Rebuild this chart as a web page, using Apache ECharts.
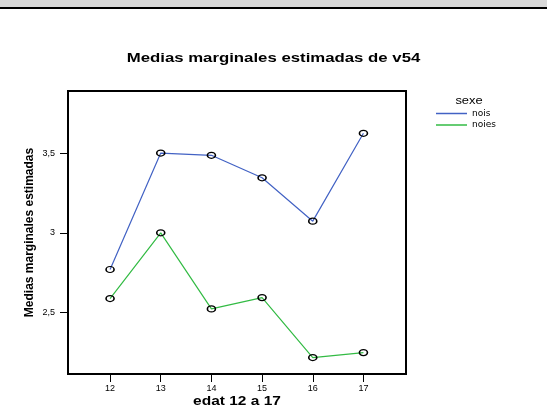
<!DOCTYPE html>
<html>
<head>
<meta charset="utf-8">
<script src="https://cdn.jsdelivr.net/npm/echarts@6/dist/echarts.min.js"></script>
<style>
  html, body { margin: 0; padding: 0; background: #fff; }
  #topband { position: absolute; left: 0; top: 0; width: 547px; height: 7px; background: #d9d9d9; border-bottom: 2px solid #000; }
  #chart { position: absolute; left: 0; top: 0; width: 547px; height: 405px; }
</style>
</head>
<body>
<div id="chart"></div>
<div id="topband"></div>
<script>
// Estimated marginal means of v54 by age and sex
const ages = [12, 13, 14, 15, 16, 17];
const nois = [2.77, 3.50, 3.486, 3.345, 3.073, 3.624];
const noies = [2.588, 3.00, 2.523, 2.594, 2.218, 2.249];
const yTicks = [2.5, 3, 3.5];

const FONT = 'Liberation Sans, Arial, sans-serif';
const WIDE = 1.29; // horizontal stretch of the wide headings

function pairs(xs, ys) { return xs.map((x, i) => [x, ys[i]]); }

const marker = {
  symbol: 'circle',
  symbolSize: [8, 6],
  itemStyle: { color: 'transparent', borderColor: '#000', borderWidth: 1.4 }
};

const chart = echarts.init(document.getElementById('chart'), null, { renderer: 'canvas' });
chart.setOption({
  animation: false,
  backgroundColor: '#fff',
  graphic: [
    {
      type: 'text', x: 273.5, y: 58, scaleX: WIDE,
      style: {
        text: 'Medias marginales estimadas de v54',
        font: 'bold 13px ' + FONT, fill: '#000',
        align: 'center', verticalAlign: 'middle'
      }
    },
    {
      type: 'text', x: 237, y: 396, scaleX: WIDE,
      style: {
        text: 'edat 12 a 17',
        font: 'bold 12px ' + FONT, fill: '#000',
        align: 'center', verticalAlign: 'top'
      }
    },
    {
      type: 'text', x: 469, y: 101, scaleX: WIDE,
      style: {
        text: 'sexe',
        font: '10px ' + FONT, fill: '#000',
        align: 'center', verticalAlign: 'middle'
      }
    }
  ],
  legend: {
    orient: 'vertical',
    left: 431, top: 103,
    itemWidth: 31, itemHeight: 1.5,
    itemGap: 0.5,
    icon: 'rect',
    textStyle: { fontFamily: 'DejaVu Sans, sans-serif', fontSize: 9, color: '#000', lineHeight: 11 },
    data: [
      { name: 'nois', itemStyle: { color: '#4262c4', borderWidth: 0 } },
      { name: 'noies', itemStyle: { color: '#33bb44', borderWidth: 0 } }
    ]
  },
  grid: {
    left: 68, top: 91, right: 141, bottom: 31,
    outerBoundsMode: 'none',
    containLabel: false,
    show: true, borderColor: '#000', borderWidth: 2, backgroundColor: 'transparent'
  },
  xAxis: {
    type: 'value',
    min: 11.17, max: 17.84,
    axisLine: { show: false },
    splitLine: { show: false },
    axisTick: { show: true, length: 8, customValues: ages, lineStyle: { color: '#000', width: 1 } },
    axisLabel: { customValues: ages, margin: 10, fontFamily: FONT, fontSize: 9, color: '#000' }
  },
  yAxis: {
    type: 'value',
    min: 2.115, max: 3.889,
    name: 'Medias marginales estimadas',
    nameLocation: 'middle', nameGap: 32, nameRotate: 90,
    nameMoveOverlap: false,
    nameTextStyle: { fontFamily: FONT, fontSize: 12, fontWeight: 'bold', color: '#000' },
    axisLine: { show: false },
    splitLine: { show: false },
    axisTick: { show: true, length: 8, customValues: yTicks, lineStyle: { color: '#000', width: 1 } },
    axisLabel: {
      customValues: yTicks, margin: 13, fontFamily: FONT, fontSize: 9, color: '#000',
      formatter: v => String(v).replace('.', ',')
    }
  },
  series: [
    Object.assign({
      name: 'nois', type: 'line', data: pairs(ages, nois),
      color: '#4262c4',
      lineStyle: { color: '#4262c4', width: 1.2 }
    }, marker),
    Object.assign({
      name: 'noies', type: 'line', data: pairs(ages, noies),
      color: '#33bb44',
      lineStyle: { color: '#33bb44', width: 1.2 }
    }, marker)
  ]
});
</script>
</body>
</html>
